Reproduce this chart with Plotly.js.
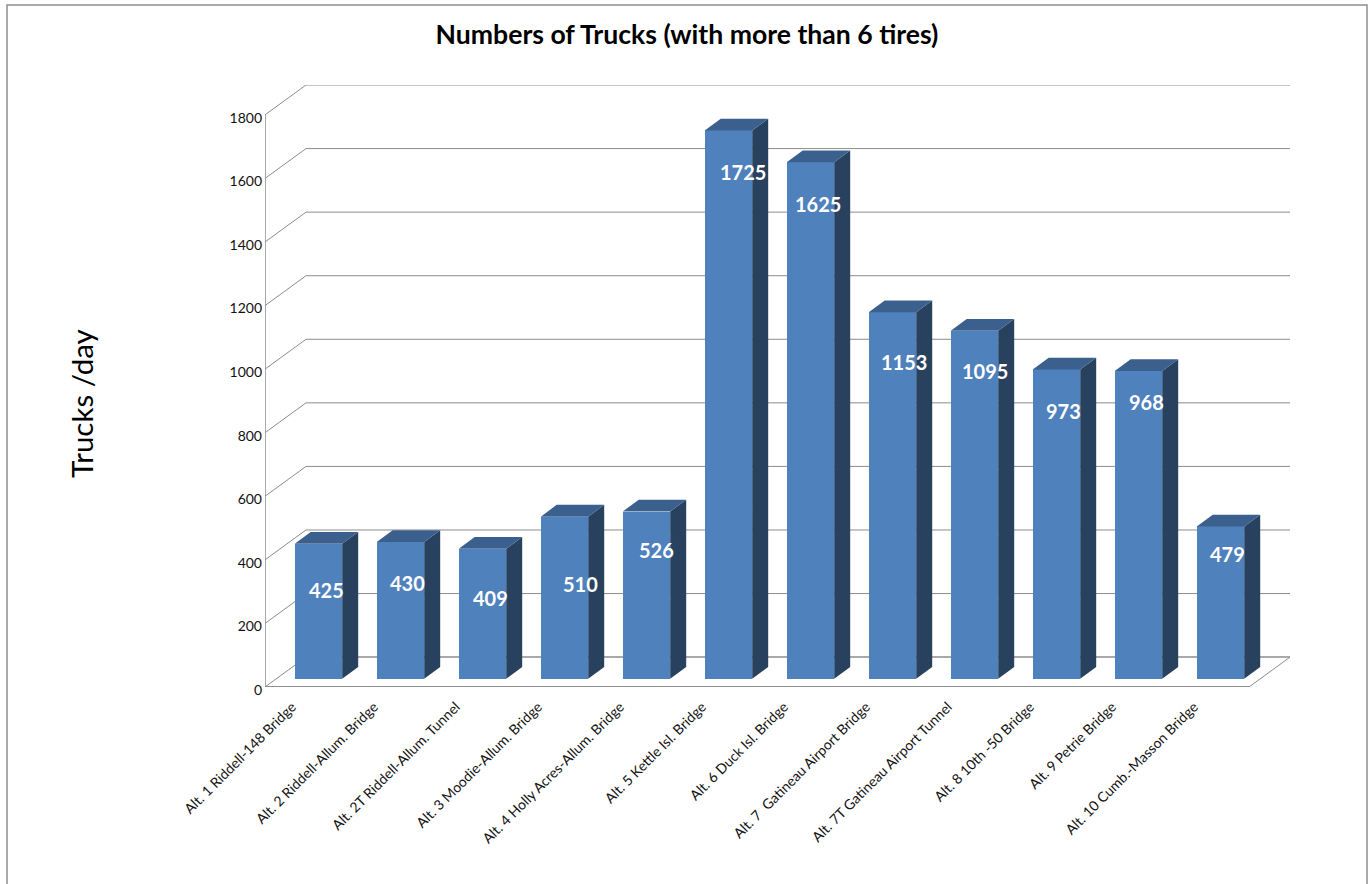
<!DOCTYPE html>
<html>
<head>
<meta charset="utf-8">
<title>Numbers of Trucks</title>
<script src="https://cdn.plot.ly/plotly-3.0.1.min.js"></script>
<style>html,body{margin:0;padding:0;background:#fff;overflow:hidden}</style>
</head>
<body>
<div id="chart"></div>
<script>
// Truck counts per crossing alternative
const categories = [
  "Alt. 1 Riddell-148 Bridge", "Alt. 2 Riddell-Allum. Bridge", "Alt. 2T Riddell-Allum. Tunnel",
  "Alt. 3 Moodie-Allum. Bridge", "Alt. 4 Holly Acres-Allum. Bridge", "Alt. 5 Kettle Isl. Bridge",
  "Alt. 6 Duck Isl. Bridge", "Alt. 7  Gatineau Airport Bridge", "Alt. 7T Gatineau Airport Tunnel",
  "Alt. 8 10th -50 Bridge", "Alt. 9 Petrie Bridge", "Alt. 10 Cumb.-Masson Bridge"
];
const trucksPerDay = [425, 430, 409, 510, 526, 1725, 1625, 1153, 1095, 973, 968, 479];
const yTicks = [0, 200, 400, 600, 800, 1000, 1200, 1400, 1600, 1800];

// Value-label nudges, in pixels from the bar centre and the bar top
const labelNudgeX = [8.5, 7.5, 8.5, 16.5, 10.5, 14.5, 7.5, 11.5, 10.5, 7.5, 8.5, 7.5];
const labelDrop = [46, 41, 49, 67, 38, 42, 42, 50, 40, 42, 31, 28];

// Oblique projection of the 3-D box, in axis units
const wallDx = 0.5, wallDy = 94;         // front of floor to back wall
const insetDx = 0.152, insetDy = 26;     // front of floor to bar front
const barDx = 0.195, barDy = 37;         // bar depth
const barWidth = 0.579;

const FONT = "Lato, Carlito, sans-serif";
const FRONT = "#4F81BD", SIDE = "#28415F", TOP = "#3B608E";
const GRID = "#8C8C8C";

const idx = categories.map((_, i) => i);
const barLeft = i => i + insetDx - barWidth / 2;
const barRight = i => i + insetDx + barWidth / 2;
const barTop = v => v + insetDy;

// Side and top faces are polygons built from the same values as the bars
const sideX = [], sideY = [], topX = [], topY = [];
idx.forEach(i => {
  const l = barLeft(i), r = barRight(i), t = barTop(trucksPerDay[i]);
  sideX.push(r, r + barDx, r + barDx, r, r, null);
  sideY.push(insetDy, insetDy + barDy, t + barDy, t, insetDy, null);
  topX.push(l, r, r + barDx, l + barDx, l, null);
  topY.push(t, t, t + barDy, t + barDy, t, null);
});

const xMin = -0.5, xMax = 11.5 + wallDx, yMax = 1800 + wallDy;
const line = (x0, y0, x1, y1, width, color) => ({
  type: "line", layer: "below", xref: "x", yref: "y",
  x0, y0, x1, y1, line: { color: color || GRID, width: width || 1 }
});

// Back-wall gridlines with their left-wall returns, then the floor and axis edges
const shapes = [];
yTicks.forEach(v => {
  shapes.push(line(xMin, v, xMin + wallDx, v + wallDy));
  shapes.push(line(xMin + wallDx, v + wallDy, xMax, v + wallDy, v === 0 ? 1.5 : 1));
});
shapes.push(line(xMin, 0, xMin, 1800, 1.5));
shapes.push(line(xMin, 0, xMax - wallDx, 0, 2, "#8F8F8F"));
shapes.push(line(xMax - wallDx, 0, xMax, wallDy));

// Outer chart frame, open at the foot of the page
const plotL = 265, plotR = 1290, plotT = 85, plotB = 687;
const px = x => (x - plotL) / (plotR - plotL);
const py = y => (plotB - y) / (plotB - plotT);
shapes.push({
  type: "path", layer: "below", xref: "paper", yref: "paper",
  path: `M ${px(7)} ${py(890)} L ${px(7)} ${py(5)} L ${px(1367)} ${py(5)} L ${px(1367)} ${py(890)}`,
  line: { color: "#8E8E8E", width: 1.5 }
});

const traces = [
  {
    type: "bar", x: idx.map(i => i + insetDx), y: trucksPerDay, base: insetDy,
    width: barWidth, marker: { color: FRONT, line: { width: 0 } },
    hovertemplate: "%{customdata}: %{y}<extra></extra>", customdata: categories
  },
  { type: "scatter", mode: "lines", x: sideX, y: sideY, fill: "toself", fillcolor: SIDE,
    line: { width: 0, color: SIDE }, hoverinfo: "skip" },
  { type: "scatter", mode: "lines", x: topX, y: topY, fill: "toself", fillcolor: TOP,
    line: { width: 0, color: TOP }, hoverinfo: "skip" }
];

const annotations = idx.map(i => ({
  x: i + insetDx, y: barTop(trucksPerDay[i]), xref: "x", yref: "y",
  text: String(trucksPerDay[i]), showarrow: false,
  xanchor: "center", yanchor: "middle",
  xshift: labelNudgeX[i], yshift: -labelDrop[i],
  font: { family: FONT, size: 20, color: "#FFFFFF", weight: 700 }
}));

// Vertical axis caption
annotations.push({
  xref: "paper", yref: "paper", x: px(81), y: py(404),
  text: "Trucks /day", textangle: -90, showarrow: false,
  xanchor: "center", yanchor: "middle",
  font: { family: FONT, size: 29.5, color: "#000000" }
});

const layout = {
  width: 1372, height: 884,
  margin: { l: plotL, r: 1372 - plotR, t: plotT, b: 884 - plotB, pad: 0 },
  paper_bgcolor: "#FFFFFF", plot_bgcolor: "rgba(0,0,0,0)",
  showlegend: false, bargap: 0,
  title: {
    text: "<b>Numbers of Trucks (with more than 6 tires)</b>",
    x: 687 / 1372, xanchor: "center", y: 1 - 35 / 884, yanchor: "middle",
    font: { family: FONT, size: 26.6, color: "#000000" }
  },
  xaxis: {
    type: "linear", range: [xMin, xMax], showgrid: false, zeroline: false, showline: false,
    tickmode: "array", tickvals: idx, ticktext: categories, tickangle: -45,
    ticks: "", ticklabelshift: -14, ticklabelstandoff: 8,
    tickfont: { family: FONT, size: 14, color: "#111111" }
  },
  yaxis: {
    range: [0, yMax], showgrid: false, zeroline: false, showline: false,
    tickmode: "array", tickvals: yTicks, ticktext: yTicks.map(String),
    ticks: "", ticklabelshift: 3, ticklabelstandoff: 2,
    tickfont: { family: FONT, size: 14, color: "#111111" }
  },
  shapes, annotations
};

Plotly.newPlot("chart", traces, layout, { displayModeBar: false, responsive: false });
</script>
</body>
</html>
